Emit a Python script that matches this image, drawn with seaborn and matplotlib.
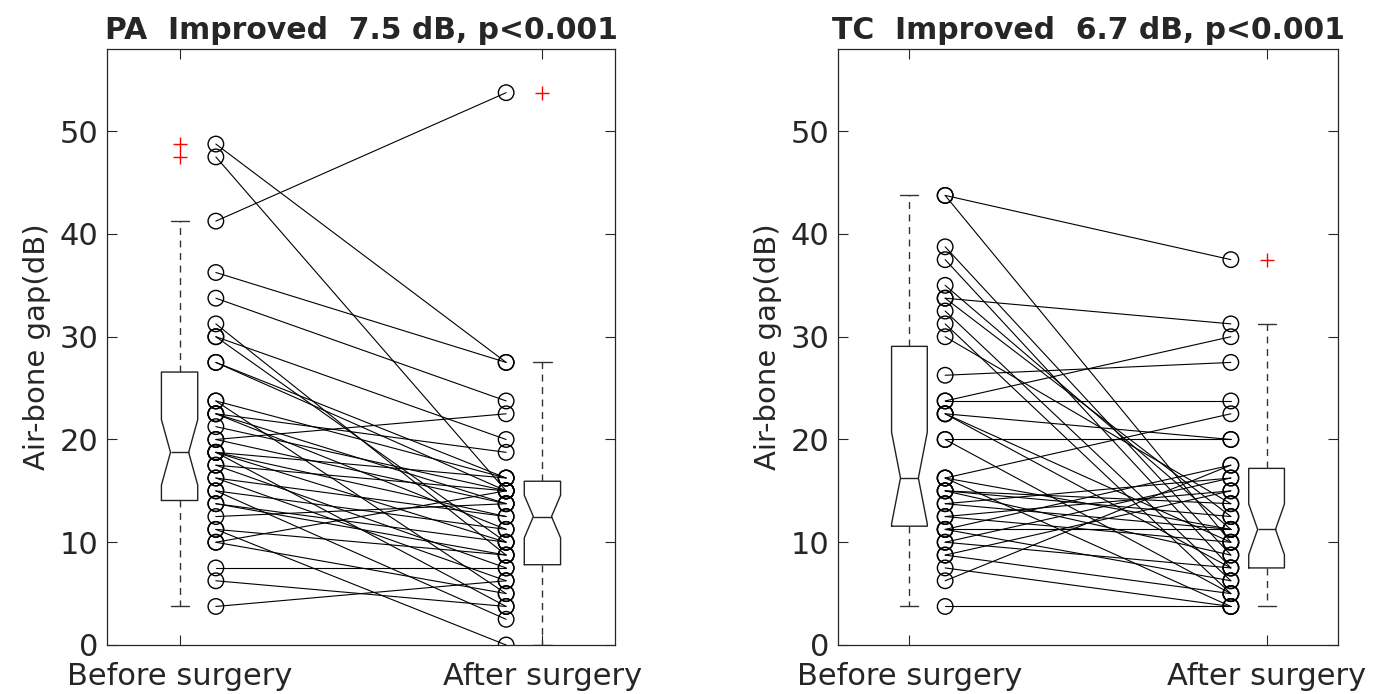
import numpy as np
import pandas as pd
import matplotlib
matplotlib.use("Agg")
import matplotlib.pyplot as plt
import seaborn as sns

# ---------------- data ----------------
conditions = ["Before surgery", "After surgery"]
y_ticks = [0, 10, 20, 30, 40, 50]
titles = ["PA  Improved  7.5 dB, p<0.001", "TC  Improved  6.7 dB, p<0.001"]

pa_before = [48.75, 47.5, 41.25, 36.25, 33.75, 31.25, 30, 30, 27.5, 27.5,
             23.75, 23.75, 22.5, 22.5, 22.5, 21.25, 20, 20, 18.75, 18.75,
             18.75, 18.75, 17.5, 17.5, 16.25, 16.25, 15, 15, 13.75, 13.75,
             12.5, 11.25, 11.25, 10, 10, 7.5, 6.25, 3.75]
pa_after = [27.5, 15, 53.75, 27.5, 23.75, 8.75, 20, 10, 16.25, 15,
            16.25, 5, 18.75, 13.75, 11.25, 15, 22.5, 13.75, 16.25, 12.5,
            10, 3.75, 15, 7.5, 12.5, 6.25, 11.25, 2.5, 10, 8.75,
            13.75, 8.75, 0, 15, 5, 7.5, 3.75, 6.25]

tc_before = [43.75, 43.75, 38.75, 37.5, 35, 33.75, 33.75, 32.5, 31.25, 30,
             26.25, 23.75, 23.75, 22.5, 22.5, 22.5, 20, 20, 16.25, 16.25,
             16.25, 15, 15, 15, 13.75, 13.75, 12.5, 12.5, 11.25, 11.25,
             11.25, 10, 10, 8.75, 8.75, 7.5, 6.25, 3.75]
tc_after = [37.5, 10, 8.75, 7.5, 11.25, 31.25, 12.5, 6.25, 5, 13.75,
            27.5, 30, 23.75, 20, 10, 7.5, 5, 20, 22.5, 11.25,
            3.75, 13.75, 12.5, 8.75, 16.25, 11.25, 15, 10, 17.5, 11.25,
            6.25, 16.25, 7.5, 15, 5, 3.75, 17.5, 3.75]

panels = [(pa_before, pa_after, titles[0]), (tc_before, tc_after, titles[1])]

# ---------------- style ----------------
sns.set_style("ticks")
plt.rcParams["font.family"] = ["DejaVu Sans"]

W, H = 1375, 694
fig = plt.figure(figsize=(W / 100, H / 100), dpi=100)
rects = [(107, 49, 508, 596), (838, 49, 500, 596)]
axes = [fig.add_axes([x / W, y / H, w / W, h / H]) for x, y, w, h in rects]

for ax, (before, after, title) in zip(axes, panels):
    n = len(before)
    df = pd.DataFrame({
        "subject": np.tile(np.arange(n), 2),
        "stage": np.repeat([0, 1], n),
        "gap": np.r_[before, after],
    })
    df["box_x"] = np.where(df["stage"] == 0, 1.0, 2.0)
    df["pt_x"] = np.where(df["stage"] == 0, 1.1, 1.9)

    sns.lineplot(data=df, x="pt_x", y="gap", units="subject", estimator=None,
                 color="black", lw=0.8, ax=ax, legend=False)
    sns.scatterplot(data=df, x="pt_x", y="gap", color="black", s=125,
                    linewidth=1.0, ax=ax, legend=False, zorder=3)
    pts = ax.collections[-1]
    pts.set_facecolor("none")
    pts.set_edgecolor("black")

    sns.boxplot(data=df, x="box_x", y="gap", native_scale=True, width=0.1,
                fill=False, color="black", linecolor="black", linewidth=1.0,
                whis=1.5, shownotches=True,
                boxprops=dict(color="#222222"),
                flierprops=dict(marker="+", markeredgecolor="red",
                                markersize=10, markeredgewidth=1.0),
                whiskerprops=dict(linestyle=(0, (5, 4)), color="#333333"),
                capprops=dict(color="#333333"),
                medianprops=dict(color="#222222", linewidth=1.0),
                ax=ax)

    ax.set_xlim(0.8, 2.2)
    ax.set_ylim(0, 58)
    ax.set_xticks([1, 2])
    ax.set_xticklabels(conditions, fontsize=22)
    ax.set_yticks(y_ticks)
    ax.set_yticklabels([str(t) for t in y_ticks], fontsize=22)
    ax.set_xlabel("")
    ax.set_ylabel("Air-bone gap(dB)", fontsize=21, labelpad=6)
    ax.set_title(title, fontsize=21.5, fontweight="bold", pad=7)
    ax.tick_params(direction="in", top=True, right=True, length=7,
                   width=0.8, colors="#262626")
    ax.tick_params(axis="x", pad=12)
    ax.tick_params(axis="y", pad=6)
    for s in ax.spines.values():
        s.set_color("#262626")
        s.set_linewidth(0.9)

fig.savefig("out.png", dpi=100)
